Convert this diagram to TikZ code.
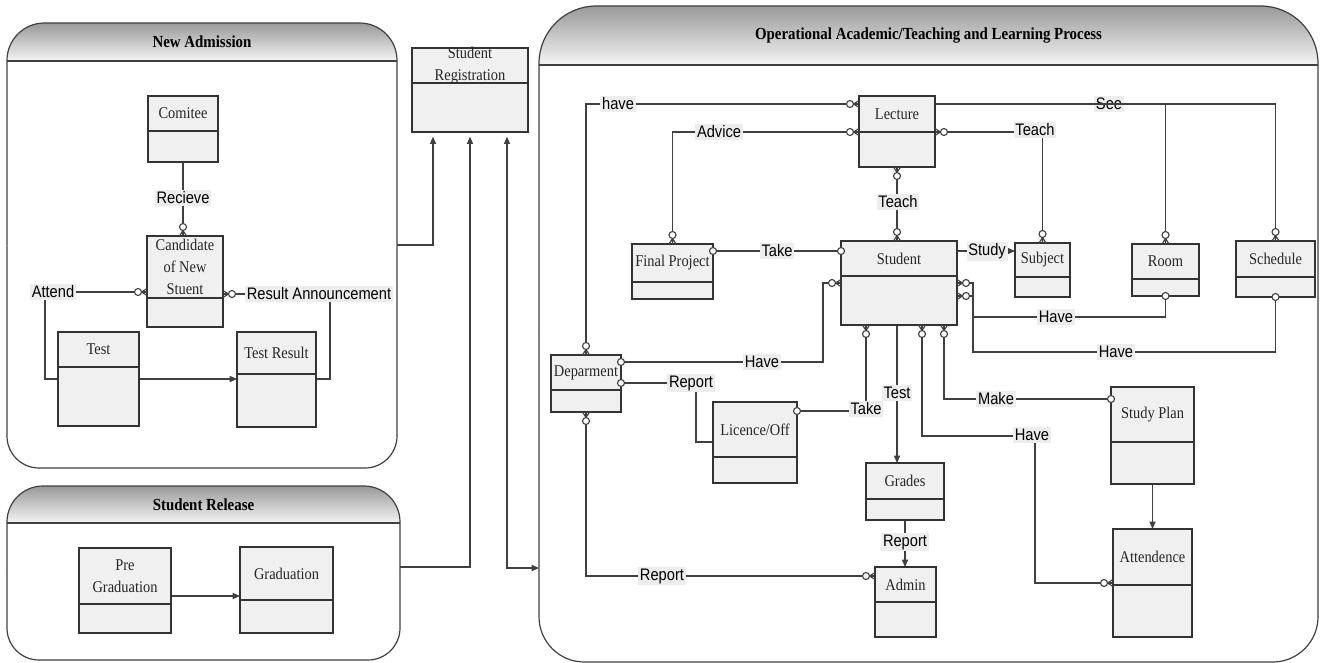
\documentclass[tikz,border=0pt]{standalone}
\usepackage{fontspec}
\setmainfont{Liberation Serif}
\newfontfamily\entfont{Liberation Serif}[FakeStretch=0.88]
\newfontfamily\lblfont{Liberation Sans}[FakeStretch=0.88]
\usetikzlibrary{arrows.meta,fit}

\pgfdeclarelayer{back}
\pgfdeclarelayer{lines}
\pgfsetlayers{back,lines,main}

\tikzset{
  entbox/.style={draw=black!80, fill=black!6, line width=1.1pt, inner sep=0pt, outer sep=0pt},
  entline/.style={draw=black!80, line width=1.1pt},
  enttext/.style={inner sep=0pt, align=center, text=black!85,
    font=\entfont\fontsize{12.3}{16.5}\selectfont},
  conn/.style={draw=black!75, line width=0.85pt},
  tip/.tip={Triangle[length=5.5pt,width=4.6pt]},
  arr/.style={conn, -tip},
  lbl/.style={fill=black!7, inner sep=1.3pt, text=black,
    font=\lblfont\fontsize{12.5}{14}\selectfont},
  ptitle/.style={inner sep=0pt, font=\entfont\bfseries\fontsize{12.7}{14}\selectfont},
  panelline/.style={draw=black!75, line width=0.9pt},
  crowo/.pic={\draw[conn] (0,-3.5) -- (5.5,0) -- (0,3.5) (0,0) -- (5.5,0);
              \draw[conn, fill=white] (9,0) circle[radius=3.5];},
  onec/.pic={\draw[conn, fill=white] (0,0) circle[radius=3.5];},
}

% entity: name, x1, y1, x2, y2, divider y, caption
\newcommand\entity[7]{%
  \coordinate (#1a) at (#2,#3);
  \coordinate (#1b) at (#4,#5);
  \node[entbox, fit=(#1a)(#1b)] (#1) {};
  \draw[entline] (#1.west |- 0,#6) -- (#1.east |- 0,#6);
  \node[enttext] (#1t) at ({(#2+#4)/2},{(#3+#6)/2}) {#7};
}

% swimlane panel: name, x1, y1, x2, y2, header y, top radius, bottom radius, title
\newcommand\panel[9]{%
  \coordinate (#1a) at (#2,#3);
  \coordinate (#1b) at (#4,#5);
  \node[fit=(#1a)(#1b), inner sep=0pt, outer sep=0pt] (#1) {};
  % shaded header, clipped to the rounded top half
  \begin{scope}
    \clip[rounded corners=#7]
      (#2,{(#3+#5)/2}) |- ({(#2+#4)/2},#3) -| (#4,{(#3+#5)/2}) -- cycle;
    \shade[top color=black!40, bottom color=black!4] (#2,#3) rectangle (#4,#6);
  \end{scope}
  % upper and lower halves of the outline, each with its own corner radius
  \draw[panelline, rounded corners=#7]
    (#2,{(#3+#5)/2}) |- ({(#2+#4)/2},#3) -| (#4,{(#3+#5)/2});
  \draw[panelline, rounded corners=#8]
    (#2,{(#3+#5)/2}) |- ({(#2+#4)/2},#5) -| (#4,{(#3+#5)/2});
  \draw[panelline] (#2,#6) -- (#4,#6);
  \node[ptitle] (#1title) at ({(#2+#4)/2},{(#3+#6)/2}) {#9};
}

\begin{document}
\begin{tikzpicture}[x=0.75pt,y=-0.75pt]
\useasboundingbox (0,0) rectangle (1323,663);

\begin{pgfonlayer}{back}
  \panel{na}{7}{23}{397}{468}{61}{28pt}{24pt}{New Admission}
  \panel{sr}{7}{486}{400}{660}{523}{27pt}{24pt}{Student Release}
  \panel{op}{539}{6}{1318}{662}{65}{43pt}{34pt}{Operational Academic/Teaching and Learning Process}
  \node[lbl] (lsee) at (1109,104) {See};
\end{pgfonlayer}

% entities
\entity{com}{148}{96}{218}{162}{131}{Comitee}
\entity{cand}{147}{236}{223}{327}{298}{Candidate\\of New\\Stuent}
\entity{test}{58}{332}{139}{426}{367}{Test}
\entity{tres}{237}{332}{316}{427}{374}{Test Result}
\entity{pre}{79}{548}{171}{633}{604}{Pre\\Graduation}
\entity{grad}{240}{547}{333}{633}{600}{Graduation}
\entity{sreg}{412}{48}{528}{132}{83}{Student\\Registration}
\entity{lec}{859}{96}{935}{167}{132}{Lecture}
\entity{stu}{841}{241}{957}{325}{276}{Student}
\entity{fp}{632}{244}{713}{299}{282}{Final Project}
\entity{subj}{1015}{243}{1070}{297}{277}{Subject}
\entity{room}{1132}{244}{1199}{296}{279}{Room}
\entity{sched}{1236}{241}{1315}{297}{277}{Schedule}
\entity{dep}{551}{355}{621}{412}{390}{Deparment}
\entity{lic}{713}{402}{797}{483}{457}{Licence/Off}
\entity{grd}{866}{463}{944}{520}{499}{Grades}
\entity{adm}{875}{567}{936}{637}{602}{Admin}
\entity{sp}{1111}{387}{1194}{484}{442}{Study Plan}
\entity{att}{1113}{529}{1192}{637}{585}{Attendence}

% relationship labels
\node[lbl] (lrec) at (183,198) {Recieve};
\node[lbl] (latt) at (53,292) {Attend};
\node[lbl] (lra) at (319,294) {Result Announcement};
\node[lbl] (lhavea) at (618,104) {have};
\node[lbl] (ladv) at (719,132) {Advice};
\node[lbl] (lteacha) at (1035,130) {Teach};
\node[lbl] (lteachb) at (898,202) {Teach};
\node[lbl] (ltakea) at (777,251) {Take};
\node[lbl] (lhaveb) at (762,362) {Have};
\node[lbl] (lrepa) at (691,383) {Report};
\node[lbl] (lrepb) at (662,576) {Report};
\node[lbl] (ltakeb) at (866,409) {Take};
\node[lbl] (ltest) at (897,393) {Test};
\node[lbl] (lhavec) at (1032,435) {Have};
\node[lbl] (lmake) at (996,399) {Make};
\node[lbl] (lhaved) at (1056,317) {Have};
\node[lbl] (lhavee) at (1116,352) {Have};
\node[lbl] (lstudy) at (987,251) {Study};
\node[lbl] (lrepc) at (905,542) {Report};

\begin{pgfonlayer}{lines}
  % New Admission
  \draw[conn] (com.south) -- (com.south |- cand.north);
  \draw[conn] (latt.east) -- (cand.west |- latt.east);
  \draw[conn] (45,0 |- latt.south) |- (test.west |- 0,379);
  \draw[arr] (test.east |- 0,379) -- (tres.west |- 0,379);
  \draw[conn] (cand.east |- lra.west) -- (lra.west);
  \draw[conn] (330,0 |- lra.south) |- (tres.east |- 0,379);
  % Student Release
  \draw[arr] (pre.east |- 0,596) -- (grad.west |- 0,596);
  % registration links
  \draw[arr, shorten >=3.5pt] (na.east |- 0,245) -| ([xshift=-27.75pt]sreg.south);
  \draw[arr, shorten >=3.5pt] (sr.east |- 0,567) -| (sreg.south);
  \draw[conn, tip-tip, shorten <=3.5pt] ([xshift=27.75pt]sreg.south) |- (op.west |- 0,568);
  % academic process
  \draw[conn] (lec.west |- 0,104) -| (dep.north);
  \draw[conn] (lec.west |- 0,132) -| (fp.north);
  \draw[conn] (lec.east |- 0,132) -| (subj.north);
  \draw[conn] (lec.east |- 0,104) -| (sched.north);
  \draw[conn] (room.north |- 0,104) -- (room.north);
  \draw[conn] (lec.south) -- (lec.south |- stu.north);
  \draw[conn] (fp.east |- 0,251) -- (stu.west |- 0,251);
  \draw[conn] (dep.east |- 0,362) -| (823,283) -- (stu.west |- 0,283);
  \draw[conn] (dep.east |- 0,383) -| (696,442) -- (lic.west |- 0,442);
  \draw[conn] (dep.south) |- (adm.west |- 0,576);
  \draw[conn] (lic.east |- 0,411) -| (866,0 |- stu.south);
  \draw[arr] (897,0 |- stu.south) -- (897,0 |- grd.north);
  \draw[conn] (922,0 |- stu.south) |- (1035,436) |- (att.west |- 0,583);
  \draw[conn] (944,0 |- stu.south) |- (sp.west |- 0,399);
  \draw[conn] (stu.east |- 0,283) -| (973,317) -| (room.south);
  \draw[conn] (stu.east |- 0,296) -| (973,352) -| (sched.south);
  \draw[arr] (stu.east |- 0,251) -- (subj.west |- 0,251);
  \draw[arr] (sp.south) -- (att.north);
  \draw[arr] (grd.south) -- (grd.south |- adm.north);
\end{pgfonlayer}

% cardinality marks
\pic[rotate=90] at (com.south |- cand.north) {crowo};
\pic[rotate=180] at (cand.west |- latt.east) {crowo};
\pic at (cand.east |- lra.west) {crowo};
\pic[rotate=180] at (lec.west |- 0,104) {crowo};
\pic[rotate=90] at (dep.north) {crowo};
\pic[rotate=180] at (lec.west |- 0,132) {crowo};
\pic[rotate=90] at (fp.north) {crowo};
\pic at (lec.east |- 0,132) {crowo};
\pic[rotate=90] at (subj.north) {crowo};
\pic[rotate=90] at (room.north) {crowo};
\pic[rotate=90] at (sched.north) {crowo};
\pic[rotate=-90] at (lec.south) {crowo};
\pic[rotate=90] at (lec.south |- stu.north) {crowo};
\pic at (fp.east |- 0,251) {onec};
\pic at (stu.west |- 0,251) {onec};
\pic at (dep.east |- 0,362) {onec};
\pic[rotate=180] at (stu.west |- 0,283) {crowo};
\pic at (dep.east |- 0,383) {onec};
\pic[rotate=-90] at (dep.south) {crowo};
\pic[rotate=180] at (adm.west |- 0,576) {crowo};
\pic at (lic.east |- 0,411) {onec};
\pic[rotate=-90] at (866,0 |- stu.south) {crowo};
\pic[rotate=-90] at (922,0 |- stu.south) {crowo};
\pic[rotate=-90] at (944,0 |- stu.south) {crowo};
\pic at (sp.west |- 0,399) {onec};
\pic[rotate=180] at (att.west |- 0,583) {crowo};
\pic at (stu.east |- 0,283) {crowo};
\pic at (stu.east |- 0,296) {crowo};
\pic at (room.south) {onec};
\pic at (sched.south) {onec};
\end{tikzpicture}
\end{document}
